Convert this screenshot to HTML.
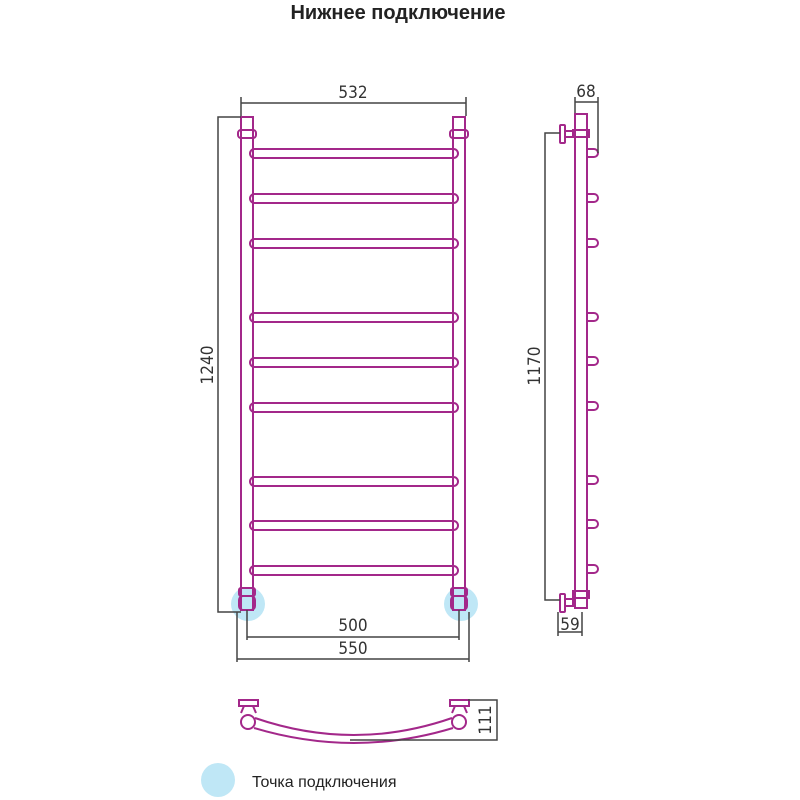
<!DOCTYPE html>
<html><head><meta charset="utf-8"><style>
html,body{margin:0;padding:0;background:#fff;width:800px;height:800px;overflow:hidden}
</style></head><body>
<svg width="800" height="800" viewBox="0 0 800 800" xmlns="http://www.w3.org/2000/svg">
<rect width="800" height="800" fill="#fff"/>
<text x="398" y="19" text-anchor="middle" font-family="Liberation Sans, sans-serif" font-weight="bold" font-size="20" fill="#222">Нижнее подключение</text>

<circle cx="248" cy="604" r="17" fill="#bfe7f6"/>
<circle cx="461" cy="604" r="17" fill="#bfe7f6"/>
<circle cx="218" cy="780" r="17" fill="#bfe7f6"/>

<g fill="none" stroke="#a3288a" stroke-width="2">
<rect x="241" y="117" width="12" height="493"/>
<rect x="453" y="117" width="12" height="493"/>
<rect x="238" y="130" width="18" height="8" rx="3"/>
<rect x="450" y="130" width="18" height="8" rx="3"/>
<rect x="239" y="588" width="16" height="8" rx="2"/>
<rect x="451" y="588" width="16" height="8" rx="2"/>
<rect x="239" y="596" width="16" height="14" rx="4"/>
<rect x="451" y="596" width="16" height="14" rx="4"/>
<g>
<rect x="250" y="149" width="208" height="9" rx="4.5"/>
<rect x="250" y="194" width="208" height="9" rx="4.5"/>
<rect x="250" y="239" width="208" height="9" rx="4.5"/>
<rect x="250" y="313" width="208" height="9" rx="4.5"/>
<rect x="250" y="358" width="208" height="9" rx="4.5"/>
<rect x="250" y="403" width="208" height="9" rx="4.5"/>
<rect x="250" y="477" width="208" height="9" rx="4.5"/>
<rect x="250" y="521" width="208" height="9" rx="4.5"/>
<rect x="250" y="566" width="208" height="9" rx="4.5"/>
</g>

<rect x="575" y="114" width="12" height="494"/>
<rect x="573" y="130" width="16" height="7"/>
<rect x="573" y="591" width="16" height="7"/>
<rect x="560" y="125" width="5" height="18" rx="1"/>
<rect x="565" y="131" width="8" height="6"/>
<rect x="560" y="594" width="5" height="18" rx="1"/>
<rect x="565" y="599" width="8" height="7"/>
<path d="M588 149h6a4 4 0 0 1 0 8h-6"/>
<path d="M588 194h6a4 4 0 0 1 0 8h-6"/>
<path d="M588 239h6a4 4 0 0 1 0 8h-6"/>
<path d="M588 313h6a4 4 0 0 1 0 8h-6"/>
<path d="M588 357h6a4 4 0 0 1 0 8h-6"/>
<path d="M588 402h6a4 4 0 0 1 0 8h-6"/>
<path d="M588 476h6a4 4 0 0 1 0 8h-6"/>
<path d="M588 520h6a4 4 0 0 1 0 8h-6"/>
<path d="M588 565h6a4 4 0 0 1 0 8h-6"/>

<rect x="239" y="700" width="19" height="6"/>
<rect x="450" y="700" width="19" height="6"/>
<path d="M244 706l-3 7M253 706l3 7M455 706l-3 7M464 706l3 7"/>
<circle cx="248" cy="722" r="7"/>
<circle cx="459" cy="722" r="7"/>
<path d="M255 718Q354 752 452 718"/>
<path d="M254 728Q354 758 453 728"/>
</g>

<g fill="none" stroke="#444" stroke-width="1.5">
<path d="M241 116V97M466 116V97M241 103H466"/>
<path d="M241 117H218V612H241"/>
<path d="M247 610V640M459 610V640M247 637H459"/>
<path d="M237 612V662M469 612V662M237 659H469"/>
<path d="M575 113V97M598 153V97M575 102H598"/>
<path d="M560 133H545V600H560"/>
<path d="M558 612V636M582 612V636M558 632H582"/>
<path d="M468 700H497V740H350M497 700V740"/>
</g>

<g font-family="DejaVu Sans Condensed, Liberation Sans Narrow, sans-serif" font-size="17" fill="#333" text-anchor="middle">
<text x="353" y="98">532</text>
<text x="353" y="631">500</text>
<text x="353" y="654">550</text>
<text x="586" y="97">68</text>
<text x="570" y="630">59</text>
<text transform="translate(213 365) rotate(-90)">1240</text>
<text transform="translate(540 366) rotate(-90)">1170</text>
<text transform="translate(491 720) rotate(-90)">111</text>
</g>
<text x="252" y="787" font-family="Liberation Sans, sans-serif" font-size="16" fill="#222">Точка подключения</text>
</svg>
</body></html>
